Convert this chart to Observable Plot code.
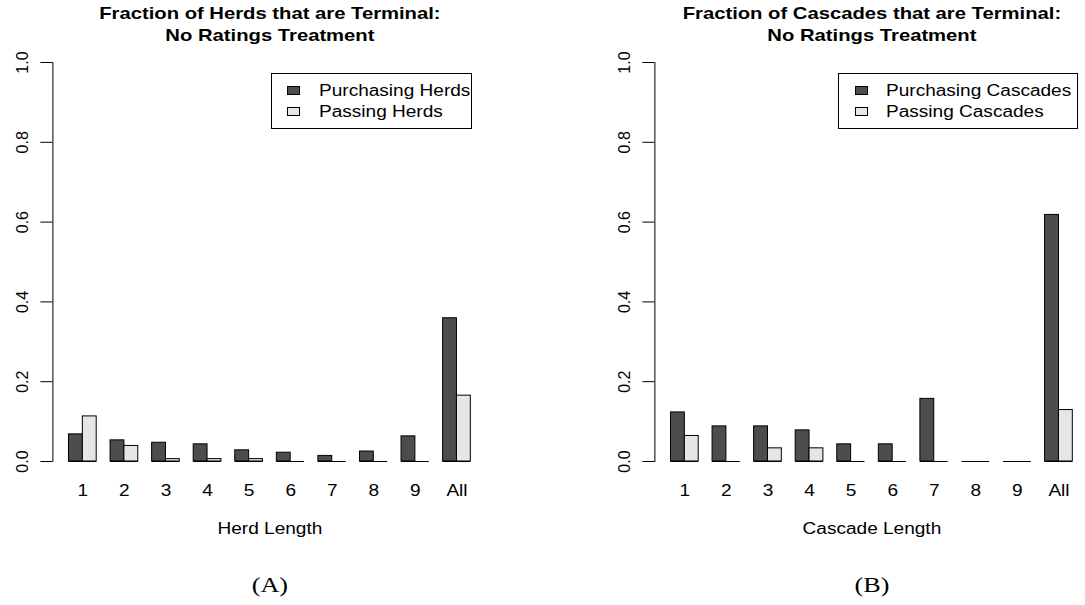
<!DOCTYPE html>
<html><head><meta charset="utf-8">
<script src="https://cdn.jsdelivr.net/npm/d3@7"></script>
<script src="https://cdn.jsdelivr.net/npm/@observablehq/plot@0.6"></script>
<style>
html,body{margin:0;padding:0;background:#fff;overflow:hidden;width:1085px;height:605px;}
#wrap{position:relative;width:1085px;height:605px;overflow:hidden;background:#fff;}
.panel{position:absolute;top:0;width:602px;height:605px;}
.legend{position:absolute;border:1px solid #000;box-sizing:border-box;background:#fff;font:16px "Liberation Sans",Arial,sans-serif;color:#000;}
.sw{position:absolute;width:13px;height:9px;border:1px solid #000;box-sizing:border-box;}
.lt{position:absolute;white-space:nowrap;line-height:1;transform-origin:left center;}
</style></head><body><div id="wrap"></div><script>
// ---- data ----
const lengths = ["1","2","3","4","5","6","7","8","9","All"];
const herdPurchasing = [0.068,0.053,0.047,0.043,0.028,0.022,0.014,0.025,0.063,0.359];
const herdPassing    = [0.113,0.039,0.006,0.006,0.006,0,0,0,0,0.165];
const cascadePurchasing = [0.123,0.088,0.088,0.078,0.043,0.043,0.157,0,0,0.618];
const cascadePassing    = [0.064,0,0.033,0.033,0,0,0,0,0,0.129];
const yTicks = [0,0.2,0.4,0.6,0.8,1];
const panelsSpec = [
  {title1:"Fraction of Herds that are Terminal:", title2:"No Ratings Treatment", xLabel:"Herd Length", tag:"(A)",
   purch: herdPurchasing, pass: herdPassing, legend:["Purchasing Herds","Passing Herds"],
   left:0, lg:{x:271, y:72.7, w:201, h:56.6, sx:15.7, tx:48}},
  {title1:"Fraction of Cascades that are Terminal:", title2:"No Ratings Treatment", xLabel:"Cascade Length", tag:"(B)",
   purch: cascadePurchasing, pass: cascadePassing, legend:["Purchasing Cascades","Passing Cascades"],
   left:602.4, lg:{x:235.3, y:72.7, w:240.4, h:56.6, sx:17, tx:48.7}}
];
const DARK = "#4d4d4d", LIGHT = "#e6e6e6", STRETCH = 1.19;
const SANS = '"Liberation Sans", Arial, sans-serif';
const SERIF = '"Liberation Serif", "Times New Roman", serif';

function build(spec, half) {
  const rows = lengths.map((g, i) => ({g, purch: spec.purch[i], pass: spec.pass[i]}));
  return Plot.plot({
    width: 602, height: 605,
    marginLeft: 52.4, marginRight: 115.6, marginTop: 62, marginBottom: 144,
    style: {fontFamily: SANS, fontSize: "16px", color: "#000", background: "transparent", overflow: "visible"},
    x: {domain: lengths, paddingInner: 1/3, paddingOuter: 0.387, align: 0.5, round: false},
    y: {domain: [0, 1]},
    marks: [
      Plot.frame({anchor: "left", stroke: "#000", strokeOpacity: 1}),
      Plot.axisY({ticks: yTicks, tickFormat: d3.format(".1f"), tickSize: 12, tickPadding: 13,
                  tickRotate: -90, textAnchor: "middle", lineAnchor: "bottom", stroke: "#000", strokeOpacity: 1, label: null, fontSize: 16}),
      Plot.axisX({tickSize: 0, tickPadding: 23, label: null, fontSize: 16}),
      Plot.barY(rows, {x: "g", y: "purch", fill: DARK, stroke: "#000", strokeWidth: 1, insetRight: half}),
      Plot.barY(rows, {x: "g", y: "pass", fill: LIGHT, stroke: "#000", strokeWidth: 1, insetLeft: half}),
      Plot.tickY(rows, {x: "g", y: () => 0, stroke: "#000", strokeWidth: 1}),
      Plot.text([spec.xLabel], {text: d => d, frameAnchor: "bottom", lineAnchor: "middle", dy: 67.3, fontSize: 16, fill: "#000"}),
      Plot.text([spec.tag], {text: d => d, frameAnchor: "bottom", lineAnchor: "middle", dy: 123.5, fontSize: 22, fontFamily: SERIF, fill: "#000"}),
      Plot.text([spec.title1], {text: d => d, frameAnchor: "top", lineAnchor: "middle", dy: -49.2, fontSize: 17, fontWeight: "bold", fill: "#000"}),
      Plot.text([spec.title2], {text: d => d, frameAnchor: "top", lineAnchor: "middle", dy: -26.7, fontSize: 17, fontWeight: "bold", fill: "#000"})
    ]
  });
}

const wrap = document.getElementById("wrap");
for (const spec of panelsSpec) {
  const div = document.createElement("div");
  div.className = "panel";
  div.style.left = spec.left + "px";
  wrap.appendChild(div);
  const first = build(spec, 0);
  const bw = first.scale("x").bandwidth;
  const svg = build(spec, bw / 2);
  div.appendChild(svg);
  // horizontal stretch of the reference text
  svg.querySelectorAll("text").forEach(t => {
    const tr = t.getAttribute("transform") || "";
    if (tr.includes("rotate")) return;
    const len = t.getComputedTextLength();
    if (len > 0) {
      t.setAttribute("textLength", (len * STRETCH).toFixed(2));
      t.setAttribute("lengthAdjust", "spacingAndGlyphs");
    }
  });
  // legend
  const lg = document.createElement("div");
  lg.className = "legend";
  Object.assign(lg.style, {left: spec.lg.x + "px", top: spec.lg.y + "px", width: spec.lg.w + "px", height: spec.lg.h + "px"});
  const rowsY = [18.3, 39];
  [DARK, LIGHT].forEach((c, i) => {
    const sw = document.createElement("div");
    sw.className = "sw";
    Object.assign(sw.style, {left: (spec.lg.sx - 1) + "px", top: (rowsY[i] - 4.5 - 1) + "px", background: c});
    lg.appendChild(sw);
    const t = document.createElement("span");
    t.className = "lt";
    t.textContent = spec.legend[i];
    Object.assign(t.style, {left: (spec.lg.tx - 1) + "px", top: (rowsY[i] - 1) + "px", transform: `translateY(-50%) scaleX(${STRETCH})`});
    lg.appendChild(t);
  });
  div.appendChild(lg);
}
</script></body></html>
